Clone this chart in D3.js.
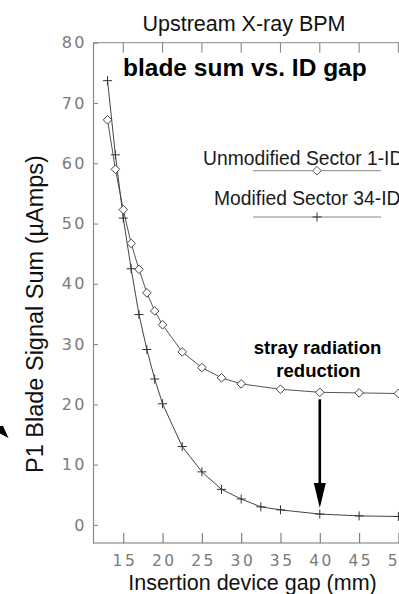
<!DOCTYPE html>
<html>
<head>
<meta charset="utf-8">
<script src="https://cdn.jsdelivr.net/npm/d3@7"></script>
<style>
  html, body { margin: 0; padding: 0; background: #fff; overflow: hidden; }
  svg { display: block; }
</style>
</head>
<body>
<script>
// Insertion device gap (mm) for each series
const gapUnmodified = [13, 14, 15, 16, 17, 18, 19, 20, 22.5, 25, 27.5, 30, 35, 40, 45, 50];
const sumUnmodified = [67.2, 59.0, 52.3, 46.7, 42.4, 38.5, 35.5, 33.2, 28.7, 26.1, 24.4, 23.4, 22.5, 22.0, 21.9, 21.8];
const gapModified = [13, 14, 15, 16, 17, 18, 19, 20, 22.5, 25, 27.5, 30, 32.5, 35, 40, 45, 50];
const sumModified = [73.7, 61.4, 50.9, 42.5, 34.9, 29.1, 24.2, 20.1, 13.0, 8.8, 5.9, 4.3, 3.0, 2.5, 1.8, 1.5, 1.4];

const xTicks = [15, 20, 25, 30, 35, 40, 45, 50];
const yTicks = [0, 10, 20, 30, 40, 50, 60, 70, 80];
const seriesNames = ["Unmodified Sector 1-ID", "Modified Sector 34-ID"];
const reductionGap = 40;

const W = 399, H = 594;
const svg = d3.select("body").append("svg").attr("width", W).attr("height", H);

const x = d3.scaleLinear().domain([11.15, 50]).range([93, 398.4]);
const y = d3.scaleLinear().domain([-3, 80]).range([543, 42.7]);

const axisGray = "#8a8a8a";
const tickFont = "'DejaVu Sans', sans-serif";
const labelFont = "'Liberation Sans', Arial, sans-serif";

// frame: top edge
svg.append("line").attr("x1", x.range()[0]).attr("x2", W + 5)
  .attr("y1", y(80)).attr("y2", y(80)).attr("stroke", "#a0a0a0").attr("stroke-width", 1.2);

// bottom axis with upward ticks
const xAxis = d3.axisBottom(x).tickValues(xTicks).tickSizeInner(-10).tickSizeOuter(0).tickPadding(12)
  .tickFormat(d3.format("d"));
const gx = svg.append("g").attr("transform", `translate(0,${y.range()[0]})`).call(xAxis);
gx.select(".domain").attr("stroke", "#777").attr("stroke-width", 1.2)
  .attr("d", `M${x.range()[0]},0H${W + 5}`);
gx.selectAll(".tick line").attr("stroke", "#777").attr("stroke-width", 1.1);
gx.selectAll(".tick text").attr("font-family", tickFont).attr("font-size", 15.5)
  .attr("fill", "#7a7a7a").attr("letter-spacing", "2.5px").attr("dx", "1.2px");

// top-edge ticks pointing down
svg.append("g").selectAll("line").data(xTicks).join("line")
  .attr("x1", d => x(d)).attr("x2", d => x(d))
  .attr("y1", y(80)).attr("y2", y(80) + 10)
  .attr("stroke", "#888").attr("stroke-width", 1.1);

// left axis with short inward ticks
const yAxis = d3.axisLeft(y).tickValues(yTicks).tickSizeInner(-5).tickSizeOuter(0).tickPadding(6)
  .tickFormat(d3.format("d"));
const gy = svg.append("g").attr("transform", `translate(${x.range()[0]},0)`).call(yAxis);
gy.select(".domain").attr("stroke", axisGray).attr("stroke-width", 1.2);
gy.selectAll(".tick line").attr("stroke", axisGray).attr("stroke-width", 1.1);
gy.selectAll(".tick text").attr("font-family", tickFont).attr("font-size", 16)
  .attr("fill", "#7a7a7a").attr("letter-spacing", "2.5px");

// series lines
const lineGen = d3.line().x(d => x(d[0])).y(d => y(d[1]));
const unmod = gapUnmodified.map((g, i) => [g, sumUnmodified[i]]);
const mod = gapModified.map((g, i) => [g, sumModified[i]]);

svg.append("path").datum(unmod).attr("d", lineGen)
  .attr("fill", "none").attr("stroke", "#555").attr("stroke-width", 1);
svg.append("path").datum(mod).attr("d", lineGen)
  .attr("fill", "none").attr("stroke", "#444").attr("stroke-width", 1);

const diamond = (cx, cy, r) => `M${cx},${cy - r}L${cx + r},${cy}L${cx},${cy + r}L${cx - r},${cy}Z`;
const cross = (cx, cy, r) => `M${cx - r},${cy}H${cx + r}M${cx},${cy - r}V${cy + r}`;

svg.append("g").selectAll("path").data(unmod).join("path")
  .attr("d", d => diamond(x(d[0]), y(d[1]), 4.3))
  .attr("fill", "#fff").attr("stroke", "#444").attr("stroke-width", 1);
svg.append("g").selectAll("path").data(mod).join("path")
  .attr("d", d => cross(x(d[0]), y(d[1]), 4.5))
  .attr("fill", "none").attr("stroke", "#333").attr("stroke-width", 1);

// legend
const legend = [
  { name: seriesNames[0], tx: 203, ty: 165, ly: 170.7, mark: "diamond" },
  { name: seriesNames[1], tx: 214, ty: 205, ly: 217, mark: "cross" }
];
legend.forEach(l => {
  svg.append("text").attr("x", l.tx).attr("y", l.ty).text(l.name)
    .attr("font-family", labelFont).attr("font-size", 19.3).attr("fill", "#1a1a1a");
  svg.append("line").attr("x1", 253).attr("x2", 381).attr("y1", l.ly).attr("y2", l.ly)
    .attr("stroke", "#888").attr("stroke-width", 1);
  if (l.mark === "diamond") {
    svg.append("path").attr("d", diamond(317, l.ly, 4.3)).attr("fill", "#fff").attr("stroke", "#555");
  } else {
    svg.append("path").attr("d", cross(317, l.ly, 4.5)).attr("fill", "none").attr("stroke", "#333");
  }
});

// titles
svg.append("text").attr("x", 244).attr("y", 31).attr("text-anchor", "middle")
  .attr("font-family", labelFont).attr("font-size", 21.5).attr("fill", "#111")
  .text("Upstream X-ray BPM");
svg.append("text").attr("x", 123).attr("y", 76)
  .attr("font-family", labelFont).attr("font-size", 24.5).attr("font-weight", "bold")
  .attr("fill", "#000").text("blade sum vs. ID gap");
svg.append("text").attr("x", 252.5).attr("y", 590).attr("text-anchor", "middle")
  .attr("font-family", labelFont).attr("font-size", 21.5).attr("fill", "#111")
  .text("Insertion device gap (mm)");
svg.append("text").attr("transform", "translate(43,314) rotate(-90)").attr("text-anchor", "middle")
  .attr("font-family", labelFont).attr("font-size", 23.5).attr("fill", "#111")
  .text("P1 Blade Signal Sum (\u00b5Amps)");

// annotation: reduction of stray radiation at the reference gap
const ann = svg.append("text").attr("text-anchor", "middle")
  .attr("font-family", labelFont).attr("font-size", 18.5).attr("font-weight", "bold")
  .attr("fill", "#000");
ann.append("tspan").attr("x", 317.5).attr("y", 353.5).text("stray radiation");
ann.append("tspan").attr("x", 318.5).attr("y", 376.7).text("reduction");

const ax = x(reductionGap);
const yTop = y(sumUnmodified[gapUnmodified.indexOf(reductionGap)]) + 7;
const yTip = y(sumModified[gapModified.indexOf(reductionGap)]) - 6;
svg.append("line").attr("x1", ax).attr("x2", ax).attr("y1", yTop).attr("y2", yTip - 20)
  .attr("stroke", "#000").attr("stroke-width", 2.6);
svg.append("path").attr("d", `M${ax - 6},${yTip - 25}L${ax + 6},${yTip - 25}L${ax},${yTip}Z`).attr("fill", "#000");

// partial arrowhead at the left edge
svg.append("path").attr("d", "M0,426L3,426L8.5,438L-1,433Z").attr("fill", "#000");
</script>
</body>
</html>
